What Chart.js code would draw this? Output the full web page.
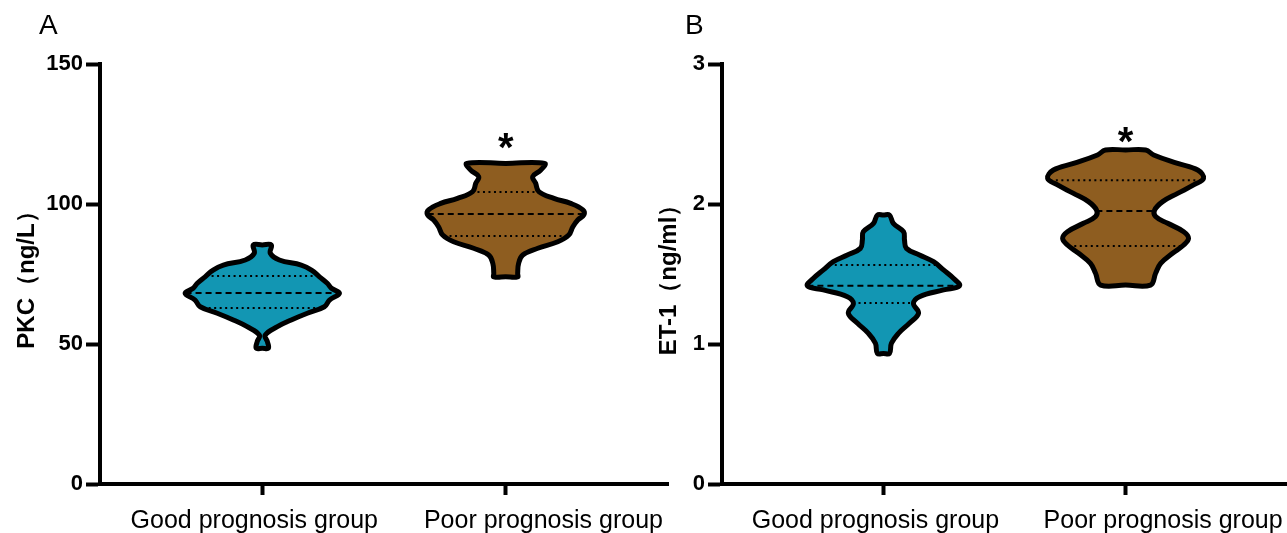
<!DOCTYPE html>
<html><head><meta charset="utf-8">
<script src="https://cdn.jsdelivr.net/npm/chart.js@4.4.0/dist/chart.umd.min.js"></script>
<style>
html,body{margin:0;padding:0;background:#fff;}
body{width:1287px;height:533px;position:relative;overflow:hidden;font-family:'Liberation Sans',Arial,sans-serif;}
.panel{position:absolute;top:0;height:533px;}
#wrapA{left:0;width:680px;}
#wrapB{left:640px;width:647px;}
.lab{position:absolute;font-size:28px;line-height:28px;color:#000;}
</style></head><body>
<div class="panel" id="wrapA"><canvas id="cA" width="680" height="533"></canvas></div>
<div class="panel" id="wrapB"><canvas id="cB" width="647" height="533"></canvas></div>
<div class="lab" style="left:39px;top:11px">A</div>
<div class="lab" style="left:685px;top:11px">B</div>
<script>
// ---------- DATA ----------
const categories = ['Good prognosis group', 'Poor prognosis group'];
const significance = ['', '*'];

// Panel A : PKC (ng/L)
const yTicksA = [0, 50, 100, 150];
const goodA_levels = [85.4, 82.4, 80.0, 78.2, 76.4, 74.0, 71.7, 69.9, 68.1, 65.7, 63.3, 61.0, 58.6, 56.2, 53.2, 50.8, 48.5];
const goodA_width  = [0.037, 0.033, 0.070, 0.160, 0.202, 0.235, 0.267, 0.284, 0.317, 0.276, 0.255, 0.185, 0.119, 0.062, 0.012, 0.021, 0.025];
const goodA_quart  = [62.9, 68.2, 74.3];
const poorA_levels = [114.5, 112.1, 109.8, 107.4, 104.4, 102.0, 100.2, 97.9, 96.1, 94.3, 91.9, 88.9, 86.5, 84.2, 81.8, 78.8, 75.2, 74.0];
const poorA_width  = [0.160, 0.144, 0.111, 0.123, 0.136, 0.198, 0.267, 0.317, 0.321, 0.296, 0.276, 0.259, 0.214, 0.132, 0.070, 0.053, 0.049, 0.049];
const poorA_quart  = [88.6, 96.4, 104.3];

// Panel B : ET-1 (ng/ml)
const yTicksB = [0, 1, 2, 3];
const goodB_levels = [1.921, 1.862, 1.802, 1.743, 1.683, 1.636, 1.588, 1.529, 1.469, 1.416, 1.386, 1.338, 1.290, 1.219, 1.148, 1.076, 1.005, 0.933];
const goodB_width  = [0.025, 0.041, 0.083, 0.087, 0.095, 0.149, 0.207, 0.248, 0.289, 0.314, 0.248, 0.149, 0.124, 0.145, 0.107, 0.062, 0.033, 0.025];
const goodB_quart  = [1.293, 1.416, 1.564];
const poorB_levels = [2.386, 2.350, 2.290, 2.243, 2.183, 2.136, 2.076, 2.017, 1.957, 1.910, 1.862, 1.802, 1.755, 1.707, 1.648, 1.576, 1.505, 1.421];
const poorB_width  = [0.083, 0.116, 0.215, 0.298, 0.322, 0.281, 0.215, 0.153, 0.120, 0.124, 0.174, 0.240, 0.260, 0.240, 0.194, 0.145, 0.124, 0.103];
const poorB_quart  = [1.700, 1.950, 2.170];

// ---------- STYLE / LAYOUT ----------
const FONT = "'Liberation Sans', Arial, sans-serif";
const colors = ['#1296B3', '#8E5D20'];
const labelShift = [-0.033, 0.155];   // horizontal offset of category labels from their tick (category units)

function outline(center, levels, widths) {
  const pts = [{x: center, y: levels[0]}];
  for (let i = 0; i < levels.length; i++) pts.push({x: center + widths[i], y: levels[i]});
  pts.push({x: center, y: levels[levels.length - 1]});
  for (let i = levels.length - 1; i >= 0; i--) pts.push({x: center - widths[i], y: levels[i]});
  pts.push({x: center, y: levels[0]});
  return pts;
}
function widthAt(levels, widths, v) {
  for (let i = 0; i < levels.length - 1; i++) {
    const a = levels[i], b = levels[i + 1];
    if ((v <= a && v >= b)) {
      const t = (a - v) / (a - b);
      return widths[i] + t * (widths[i + 1] - widths[i]);
    }
  }
  return 0;
}
function violinDatasets(center, levels, widths, quart, color) {
  const pts = outline(center, levels, widths);
  const ds = [];
  ds.push({data: pts, borderWidth: 0, backgroundColor: color, fill: 'shape', tension: 0.4, pointRadius: 0, order: 3});
  quart.forEach((q, k) => {
    const w = widthAt(levels, widths, q);
    ds.push({data: [{x: center - w, y: q}, {x: center + w, y: q}], borderColor: '#000',
      borderWidth: 2, borderDash: k === 1 ? [6, 4] : [2, 3.5], fill: false, pointRadius: 0, tension: 0, order: 2});
  });
  ds.push({data: pts, borderColor: '#000', borderWidth: 5, fill: false, tension: 0.4, pointRadius: 0,
    borderJoinStyle: 'round', borderCapStyle: 'round', order: 1});
  return ds;
}
function noPad(s) { s.paddingLeft = 0; s.paddingRight = 0; s.paddingTop = 0; s.paddingBottom = 0; }

function makePanel(id, cfg) {
  const sigPlugin = {
    id: 'sig' + id,
    afterDatasetsDraw(chart) {
      const {ctx, scales: {x, y}} = chart;
      significance.forEach((m, i) => {
        if (!m) return;
        const top = Math.max(...cfg.violins[i].levels);
        const px = x.getPixelForValue(i + 1);
        const py = y.getPixelForValue(top) - cfg.sigGap;
        ctx.save();
        ctx.font = 'bold 40px ' + FONT;
        ctx.fillStyle = '#000';
        ctx.textAlign = 'center';
        ctx.textBaseline = 'alphabetic';
        const mt = ctx.measureText(m);
        const base = py + (mt.actualBoundingBoxAscent - mt.actualBoundingBoxDescent) / 2;
        ctx.fillText(m, px, base);
        ctx.restore();
      });
    }
  };
  let datasets = [];
  cfg.violins.forEach((v, i) => { datasets = datasets.concat(violinDatasets(i + 1, v.levels, v.widths, v.quart, colors[i])); });
  const xMin = 1 / 3, xMax = categories.length + 2 / 3;
  return new Chart(document.getElementById(id), {
    type: 'line',
    data: {datasets},
    plugins: [sigPlugin],
    options: {
      responsive: false,
      animation: false,
      devicePixelRatio: 1,
      layout: {padding: {top: 64, right: cfg.padRight, left: 0, bottom: 0}},
      plugins: {legend: {display: false}, tooltip: {enabled: false}},
      scales: {
        x: {
          type: 'linear', min: xMin, max: xMax, position: 'bottom', weight: 0,
          afterBuildTicks: s => { s.ticks = categories.map((c, i) => ({value: i + 1})); },
          afterFit: s => { s.height = 12; noPad(s); },
          ticks: {display: false},
          grid: {drawOnChartArea: false, drawTicks: true, tickLength: 11, tickWidth: 4, tickColor: '#000'},
          border: {display: true, width: 4, color: '#000'}
        },
        xl: {
          type: 'linear', min: xMin, max: xMax, position: 'bottom', weight: 1,
          afterBuildTicks: s => { s.ticks = categories.map((c, i) => ({value: i + 1 + labelShift[i]})); },
          afterFit: s => { s.height = 37; noPad(s); },
          ticks: {callback: v => categories[Math.round(v) - 1], color: '#000', font: {family: FONT, size: 25}, padding: 10, maxRotation: 0, autoSkip: false},
          grid: {display: false, drawTicks: false},
          border: {display: false}
        },
        y: {
          min: cfg.yTicks[0], max: cfg.yTicks[cfg.yTicks.length - 1],
          afterBuildTicks: s => { s.ticks = cfg.yTicks.map(v => ({value: v})); },
          afterFit: s => { s.width = cfg.yWidth; noPad(s); },
          ticks: {color: '#000', font: {family: FONT, size: 22, weight: 'bold'}, padding: 3},
          grid: {drawOnChartArea: false, drawTicks: true, tickLength: 14, tickWidth: 4, tickColor: '#000'},
          border: {display: true, width: 4, color: '#000'},
          title: {display: true, text: cfg.title, color: '#000', font: {family: FONT, size: 24, weight: 'bold'}, padding: {top: cfg.titlePad, bottom: 0}}
        }
      }
    }
  });
}

makePanel('cA', {
  title: 'PKC（ng/L）', yTicks: yTicksA, yWidth: 100, titlePad: 13, padRight: 12, sigGap: 22,
  violins: [
    {levels: goodA_levels, widths: goodA_width, quart: goodA_quart},
    {levels: poorA_levels, widths: poorA_width, quart: poorA_quart}
  ]
});
makePanel('cB', {
  title: 'ET-1（ng/ml）', yTicks: yTicksB, yWidth: 82, titlePad: 15, padRight: 0, sigGap: 15,
  violins: [
    {levels: goodB_levels, widths: goodB_width, quart: goodB_quart},
    {levels: poorB_levels, widths: poorB_width, quart: poorB_quart}
  ]
});
</script>
</body></html>
